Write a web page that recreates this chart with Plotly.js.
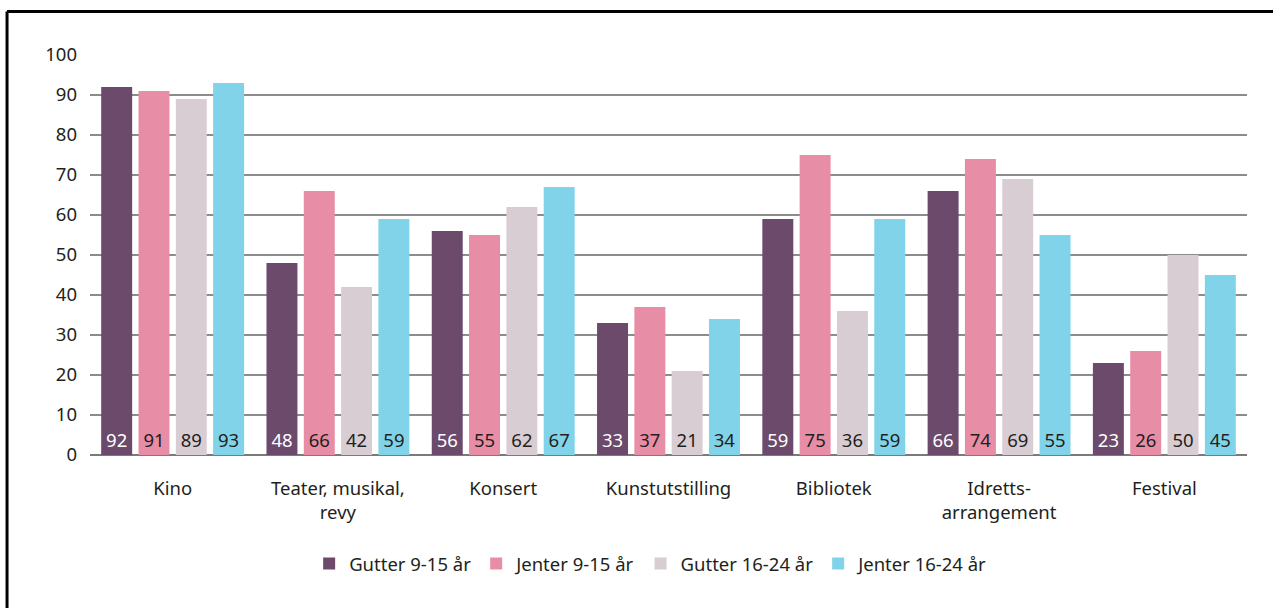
<!DOCTYPE html>
<html>
<head>
<meta charset="utf-8">
<script src="https://cdn.plot.ly/plotly-3.0.1.min.js"></script>
<style>html,body{margin:0;padding:0;background:#fff;}#chart{width:1273px;height:608px;}</style>
</head>
<body>
<div id="chart"></div>
<script>
const categories = ["Kino", "Teater, musikal,<br>revy", "Konsert", "Kunstutstilling", "Bibliotek", "Idretts-<br>arrangement", "Festival"];
const seriesNames = ["Gutter 9-15 år", "Jenter 9-15 år", "Gutter 16-24 år", "Jenter 16-24 år"];
const gutter915 = [92, 48, 56, 33, 59, 66, 23];
const jenter915 = [91, 66, 55, 37, 75, 74, 26];
const gutter1624 = [89, 42, 62, 21, 36, 69, 50];
const jenter1624 = [93, 59, 67, 34, 59, 55, 45];
const yTicks = [0, 10, 20, 30, 40, 50, 60, 70, 80, 90, 100];

const colors = ["#6b4a6b", "#e88da6", "#d8cdd3", "#80d3e8"];
const textColors = ["#ffffff", "#231f20", "#231f20", "#231f20"];
const allSeries = [gutter915, jenter915, gutter1624, jenter1624];
const FONT = "Noto Sans, Open Sans, sans-serif";

const traces = allSeries.map((vals, i) => ({
  type: "bar",
  name: seriesNames[i],
  x: categories,
  y: vals,
  marker: {color: colors[i], line: {width: 0}},
  text: vals.map(String),
  textposition: "inside",
  insidetextanchor: "start",
  textangle: 0,
  constraintext: "none",
  textfont: {family: FONT, size: 18.5, color: textColors[i]},
  hoverinfo: "x+y+name"
}));

const layout = {
  width: 1273,
  height: 608,
  margin: {l: 90, r: 26, t: 55, b: 153},
  paper_bgcolor: "#ffffff",
  plot_bgcolor: "#ffffff",
  barmode: "group",
  bargap: 0.097,
  bargroupgap: 0.17,
  font: {family: FONT, size: 18, color: "#231f20"},
  xaxis: {
    type: "category",
    showgrid: false,
    showline: false,
    ticks: "",
    tickfont: {family: FONT, size: 18.5, color: "#231f20"},
    ticklabelstandoff: 20
  },
  yaxis: {
    range: [0, 100],
    tickvals: yTicks,
    ticktext: yTicks.map(String),
    showgrid: true,
    gridcolor: "#8c8c8c",
    gridwidth: 1.5,
    zeroline: true,
    zerolinecolor: "#7a7a7a",
    zerolinewidth: 1.5,
    showline: false,
    ticks: "",
    ticklabelstandoff: 12,
    tickfont: {family: FONT, size: 18.5, color: "#231f20"}
  },
  legend: {
    orientation: "h",
    x: 0.485,
    xanchor: "center",
    y: -0.225,
    yanchor: "top",
    font: {family: FONT, size: 18.5, color: "#231f20"},
    itemwidth: 30,
    traceorder: "normal",
    itemclick: false
  },
  shapes: [
    {type: "line", xref: "paper", yref: "paper", x0: -0.0717, x1: 1.03, y0: 1.109, y1: 1.109, line: {color: "#000", width: 3}},
    {type: "line", xref: "paper", yref: "paper", x0: -0.0717, x1: -0.0717, y0: 1.109, y1: -0.40, line: {color: "#000", width: 3}}
  ],
  showlegend: true
};

Plotly.newPlot("chart", traces, layout, {displayModeBar: false});
</script>
</body>
</html>
